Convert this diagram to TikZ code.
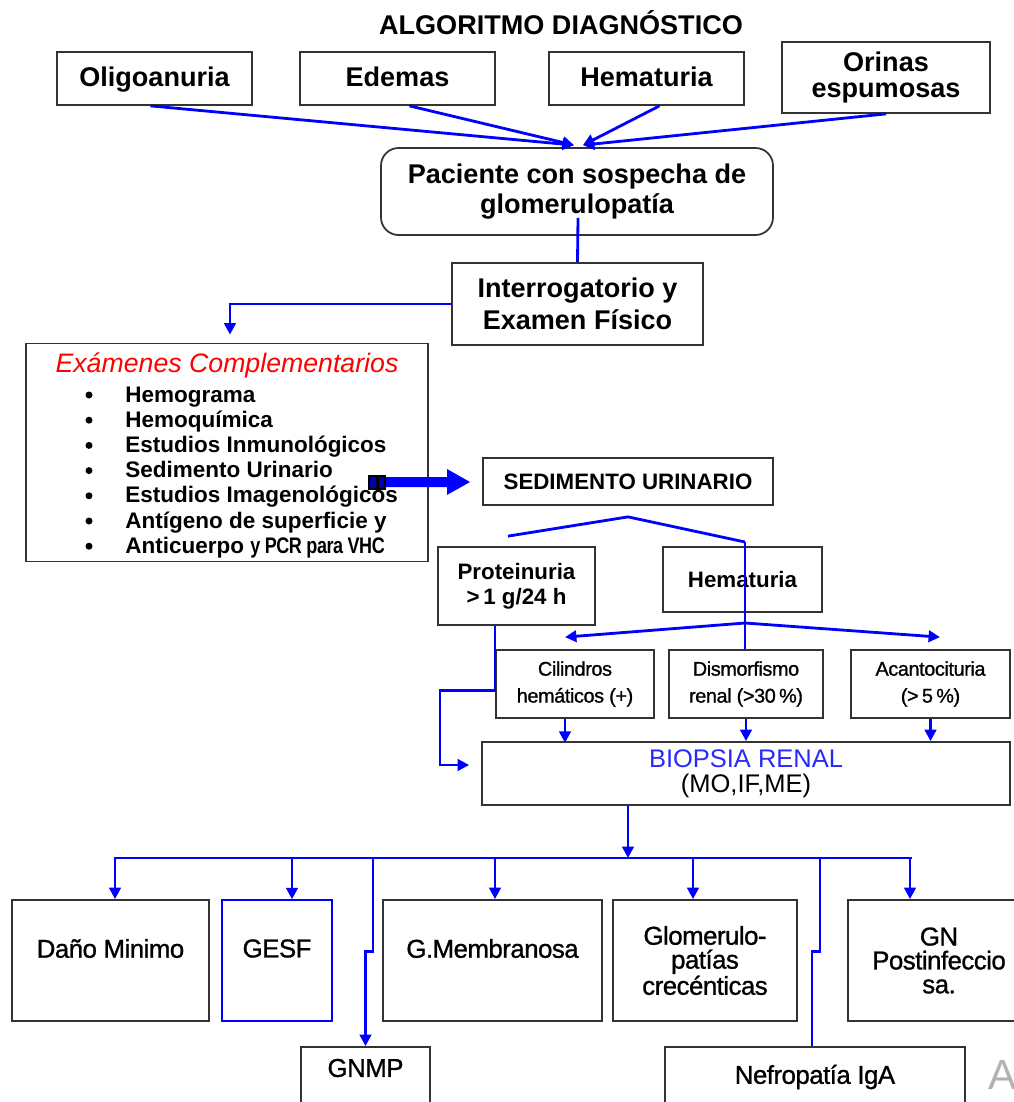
\documentclass[tikz,border=0pt]{standalone}
\usepackage{fontspec}
\setmainfont{Liberation Sans}
\newfontfamily\tightfont[LetterSpace=-2,FakeBold=1]{Liberation Sans}
\newfontfamily\narrowfont[FakeStretch=0.8,LetterSpace=-2]{Liberation Sans}
\usetikzlibrary{arrows.meta,calc}

\definecolor{linkblue}{RGB}{0,0,255}
\definecolor{titlered}{RGB}{255,0,0}
\definecolor{biopblue}{RGB}{40,40,255}

\tikzset{
  every node/.style={inner sep=0pt},
  box/.style 2 args={draw=black!80, line width=1pt, minimum width=#1*0.02cm,
    minimum height=#2*0.02cm, align=center},
  oneline/.style={text height=0.95em, text depth=0em},
  conn/.style={draw=linkblue, line width=1.6pt, -{Triangle[length=6.5pt,width=6.5pt]}},
  link/.style={draw=linkblue, line width=1.6pt},
  dot/.style={circle, fill=black, minimum size=7*0.02cm},
  big/.style={font=\bfseries\fontsize{15.4}{14.7}\selectfont},
  mid/.style={font=\bfseries\fontsize{12.7}{14.2}\selectfont},
  small/.style={font=\tightfont\fontsize{11.3}{15.3}\selectfont},
  res/.style={font=\tightfont\fontsize{14.7}{13.6}\selectfont, align=center},
  listitem/.style={anchor=base west, font=\bfseries\fontsize{12.8}{14}\selectfont}
}

\begin{document}
\begin{tikzpicture}[x=0.02cm, y=-0.02cm]
\useasboundingbox (0,0) rectangle (1014,1102);

\node[font=\bfseries\fontsize{15.4}{17}\selectfont] (tit) at (561,23) {ALGORITMO DIAGNÓSTICO};

% sintomas
\node[box={195}{53}, big, oneline] (olig) at (154.5,78.5) {Oligoanuria};
\node[box={195}{53}, big, oneline] (edem) at (397.5,78.5) {Edemas};
\node[box={195}{53}, big, oneline] (hemt) at (646.5,78.5) {Hematuria};
\node[box={208}{71}, big] (orin) at (886,77.5) {Orinas\\espumosas};

\node[box={392}{87}, rounded corners=10pt, font=\bfseries\fontsize{15.4}{17}\selectfont] (pac) at (577,191.5) {Paciente con sospecha de\\glomerulopatía};
\node[box={251}{82}, font=\bfseries\fontsize{15.4}{18}\selectfont] (interr) at (577.5,304) {Interrogatorio y\\Examen Físico};

\draw[conn] ($(olig.south)+(-4,0)$) -- ($(pac.north)+(-3,-2)$);
\draw[conn] ($(edem.south)+(12,0)$) -- ($(pac.north)+(-3,-2)$);
\draw[conn] ($(hemt.south)+(13,0)$) -- ($(pac.north)+(6,-2)$);
\draw[conn] (orin.south) -- ($(pac.north)+(6,-2)$);
\draw[link] ($(pac.south)+(1,-18)$) -- (interr.north);

% examenes
\node[box={402}{218}] (exam) at (227,452.5) {};
\node[text=titlered, font=\itshape\fontsize{15.2}{17}\selectfont] (examtit) at (227,365) {Exámenes Complementarios};
\foreach \txt [count=\i from 0] in {Hemograma, Hemoquímica, Estudios Inmunológicos,
    Sedimento Urinario, Estudios Imagenológicos, Antígeno de superficie y,
    {Anticuerpo {\narrowfont y PCR para VHC}}} {
  \node[dot] (bul\i) at (89,{395+25.2*\i}) {};
  \node[listitem] (item\i) at (125,{402+25.2*\i}) {\txt};
}
\draw[conn] (interr.west) -| ($(exam.north)+(3,-8)$);

% flecha gruesa
\fill[linkblue] (385,477) -- (447,477) -- (447,469) -- (470,482) -- (447,495) -- (447,487) -- (385,487) -- cycle;
\draw[black, line width=0.6pt, fill=linkblue!70!black] (369,476) rectangle (377,489);
\draw[black, line width=0.6pt, fill=linkblue!70!black] (378,476) rectangle (385,489);

% sedimento
\node[box={290}{47}, mid, oneline] (sed) at (628,481.5) {SEDIMENTO URINARIO};
\node[box={157}{78}, mid] (prot) at (516.5,586) {Proteinuria\\>\,1 g/24 h};
\node[box={159}{65}, mid, oneline] (hemu) at (742.5,579.5) {Hematuria};
\node[box={158}{68}, small] (cil) at (575,684) {Cilindros\\hemáticos (+)};
\node[box={154}{68}, small] (dism) at (746,684) {Dismorfismo\\renal (>30\,\%)};
\node[box={159}{68}, small] (acan) at (930.5,684) {Acantocituria\\(>\,5\,\%)};

\coordinate (sedfork) at ($(sed.south)+(0,11)$);
\coordinate (hsplit) at (745,542);
\coordinate (hfork) at (745,623);
\draw[link] ($(prot.north)+(-8.5,-10)$) -- (sedfork) -- (hsplit);
\draw[link] (hsplit) -- (hsplit |- dism.north);
\draw[conn] (hfork) -- ($(cil.north)+(-10,-12)$);
\draw[conn] (hfork) -- ($(acan.north)+(9.5,-12)$);

% biopsia
\node[box={528}{63}, font=\fontsize{14.5}{14.2}\selectfont] (bio) at (746,773.5) {\textcolor{biopblue}{BIOPSIA RENAL}\\(MO,IF,ME)};
\draw[conn] ($(cil.south)+(-10,0)$) -- ($(cil.south)+(-10,24)$);
\draw[conn] (dism.south) -- (dism.south |- bio.north);
\draw[conn] (acan.south) -- (acan.south |- bio.north);
\draw[conn] ($(prot.south)+(-21.5,0)$) |- ++(-55,65) |- ($(bio.west)+(-12,-8.5)$);

% resultados
\coordinate (bus) at (628,858);
\draw[conn] (bio.south -| bus) -- (bus);
\draw[link] (115,858) -- (912,858);

\node[box={197}{121}] (dano) at (110.5,960.5) {};
\node[res] (danotxt) at ($(dano)+(0,-12)$) {Daño Minimo};
\node[box={110}{121}, draw=linkblue, line width=0.8pt] (gesf) at (277,960.5) {};
\node[res] (gesftxt) at ($(gesf)+(0,-12)$) {GESF};
\node[box={219}{121}] (memb) at (492.5,960.5) {};
\node[res] (membtxt) at ($(memb)+(0,-12)$) {G.Membranosa};
\node[box={184}{121}, res] (glom) at (705,960.5) {Glomerulo-\\patías\\crecénticas};
\node[box={182}{121}, res] (gnpo) at (939,960.5) {GN\\Postinfeccio\\sa.};
\node[box={129}{76}] (gnmp) at (365.5,1085) {};
\node[res] (gnmptxt) at (365.5,1068) {GNMP};
\node[box={300}{76}] (nefro) at (815,1085) {};
\node[res] (nefrotxt) at (815,1077) {Nefropatía IgA};
\node[anchor=west, text=black!30, font=\fontsize{24}{24}\selectfont] (marca) at (988,1075) {A};

\foreach \b/\dx in {dano/4.5, gesf/15, memb/2.5, glom/-12, gnpo/-29}
  \draw[conn] ($(\b.north)+(\dx,-42)$) -- ($(\b.north)+(\dx,0)$);
\draw[conn] ($(gnmp.north)+(7.5,-189)$) -- ++(0,94) -- ++(-7.5,0) -- (gnmp.north);
\draw[link] ($(nefro.north)+(5,-189)$) -- ++(0,94) -- ++(-8,0) -- ($(nefro.north)+(-3,0)$);
\end{tikzpicture}
\end{document}
